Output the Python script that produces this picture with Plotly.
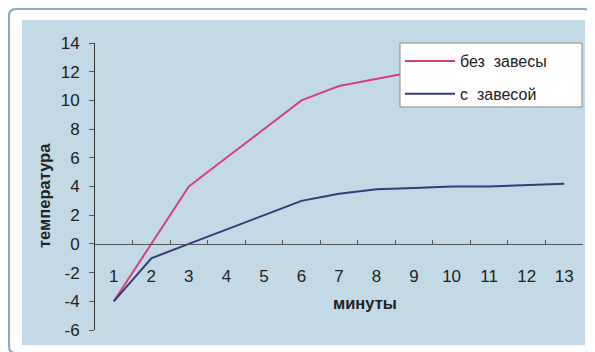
import plotly.graph_objects as go

minutes = [str(m) for m in range(1, 14)]
bez_zavesy = [-4, 0, 4, 6, 8, 10, 11, 11.5, 12, 12.3, 12.6, 12.8, 13]
s_zavesoy = [-4, -1, 0, 1, 2, 3, 3.5, 3.8, 3.9, 4, 4, 4.1, 4.2]
y_ticks = list(range(-6, 15, 2))
y_ticktext = [str(v) for v in y_ticks]

# the page body has an 8px default margin; figure sized to fill the 595x352 window
OFF = 8
W, H = 595 - OFF, 352 - OFF
L, R, T, B = 95 - OFF, 12, 43 - OFF, 22
PW, PH = W - L - R, H - T - B

def px(x):
    return (x - OFF - L) / PW

def py(y):
    return (H - B - (y - OFF)) / PH

FONT = "Arial, Liberation Sans, sans-serif"

fig = go.Figure()
fig.add_trace(go.Scatter(x=minutes, y=bez_zavesy, mode="lines", name="без  завесы",
                         line=dict(color="#d2427e", width=2), legendgroup="a"))
fig.add_trace(go.Scatter(x=minutes, y=s_zavesoy, mode="lines", name="с  завесой",
                         line=dict(color="#353a7c", width=2), legendgroup="b"))

def rounded(x0, y0, x1, y1, r):
    X0, X1 = px(x0), px(x1)
    Y0, Y1 = py(y0), py(y1)
    rx, ry = r / PW, r / PH
    return (f"M {X0+rx} {Y0} L {X1-rx} {Y0} Q {X1} {Y0} {X1} {Y0-ry} "
            f"L {X1} {Y1+ry} Q {X1} {Y1} {X1-rx} {Y1} L {X0+rx} {Y1} "
            f"Q {X0} {Y1} {X0} {Y1+ry} L {X0} {Y0-ry} Q {X0} {Y0} {X0+rx} {Y0} Z")

shapes = [
    dict(type="path", xref="paper", yref="paper", path=rounded(9, 9, 591, 353, 7),
         line=dict(color="#86aebd", width=2), fillcolor="white", layer="below"),
    dict(type="rect", xref="paper", yref="paper", x0=px(22), x1=px(585), y0=py(345), y1=py(20),
         line=dict(width=0), fillcolor="#c3dae6", layer="below"),
    # legend box
    dict(type="rect", xref="paper", yref="paper", x0=px(400), x1=px(582), y0=py(107), y1=py(43),
         line=dict(color="#8a8a8a", width=1), fillcolor="white", layer="above"),
]

fig.update_layout(
    width=W, height=H,
    margin=dict(l=L, r=R, t=T, b=B),
    paper_bgcolor="rgba(0,0,0,0)",
    plot_bgcolor="#d0e2eb",
    shapes=shapes,
    font=dict(family=FONT, color="#222222"),
    showlegend=True,
    legend=dict(x=px(400), y=py(44), xanchor="left", yanchor="top",
                bgcolor="rgba(0,0,0,0)", borderwidth=0,
                font=dict(size=16, color="#222222"), tracegroupgap=9,
                itemwidth=50),
    xaxis=dict(type="category", range=[-0.5, 12.5],
               anchor="free", position=0.3, showline=True, linecolor="#555555", linewidth=1,
               ticks="inside", tickson="boundaries", ticklen=4, tickcolor="#555555",
               showgrid=False, zeroline=False, ticklabelstandoff=17,
               tickfont=dict(size=17, color="#222222")),
    yaxis=dict(range=[-6, 14], tickvals=y_ticks, ticktext=y_ticktext,
               showline=True, linecolor="#333333", linewidth=1,
               ticks="outside", ticklen=5, tickcolor="#555555", showgrid=False, zeroline=False,
               tickfont=dict(size=17, color="#222222"), ticklabelstandoff=6),
    annotations=[
        dict(text="<b>температура</b>", x=px(44), y=py(196), xref="paper", yref="paper",
             xanchor="center", yanchor="middle",
             textangle=-90, showarrow=False, font=dict(size=16.5, color="#222222")),
        dict(text="<b>минуты</b>", x=px(365), y=py(303), xref="paper", yref="paper",
             xanchor="center", yanchor="middle",
             showarrow=False, font=dict(size=16.5, color="#222222")),
    ],
)

fig.write_html("out.html")
